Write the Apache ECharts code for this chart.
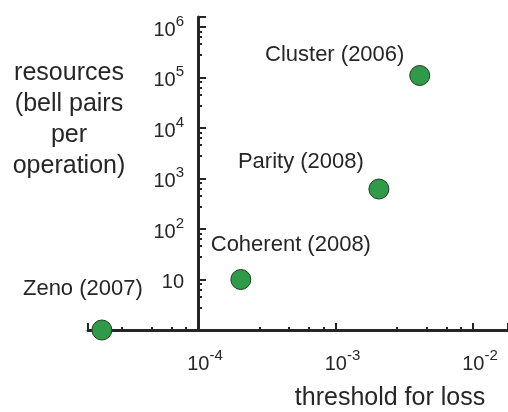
<!DOCTYPE html>
<html>
<head>
<meta charset="utf-8">
<script src="https://cdn.jsdelivr.net/npm/echarts@6/dist/echarts.min.js"></script>
<style>
html,body{margin:0;padding:0;background:#fff;}
#chart{width:508px;height:412px;}
</style>
</head>
<body>
<div id="chart"></div>
<script>
// ---- data ----
const schemes = ['Zeno (2007)', 'Coherent (2008)', 'Parity (2008)', 'Cluster (2006)'];
const lossThreshold = [2.0e-5, 2.05e-4, 2.07e-3, 4.1e-3];
const bellPairs = [1, 10, 620, 1.1e5];
const xAxisTitle = 'threshold for loss';
const yAxisTitle = 'resources\n(bell pairs\nper\noperation)';

// ---- styling (label offsets relative to the point) ----
const labelOffsets = [[-19, -41], [50, -35], [-78, -27], [-85, -21]];

const FONT = '"Liberation Sans", Arial, sans-serif';
const INK = '#262626';

function powExp(v) {
  const e = Math.log10(v);
  const r = Math.round(e);
  return Math.abs(e - r) < 1e-6 ? r : null;
}

const supRich = {
  b: {fontFamily: FONT, fontSize: 20, color: INK, lineHeight: 26, verticalAlign: 'bottom'},
  s: {fontFamily: FONT, fontSize: 15, color: INK, verticalAlign: 'top', lineHeight: 15}
};

const chart = echarts.init(document.getElementById('chart'), null, {renderer: 'canvas'});
chart.setOption({
  backgroundColor: '#ffffff',
  animation: false,
  grid: {left: 88, right: 0, top: 17, bottom: 82, containLabel: false, outerBoundsMode: 'none'},
  graphic: [{
    type: 'text',
    x: 69,
    y: 58,
    silent: true,
    style: {
      text: yAxisTitle,
      fontFamily: FONT,
      fontSize: 25,
      lineHeight: 31,
      fill: INK,
      align: 'center',
      verticalAlign: 'top'
    }
  }],
  xAxis: {
    type: 'log',
    logBase: 10,
    min: Math.pow(10, -4.8),
    max: Math.pow(10, -1.745),
    splitNumber: 5,
    name: xAxisTitle,
    nameLocation: 'middle',
    nameGap: 56,
    nameTextStyle: {fontFamily: FONT, fontSize: 25, color: INK, padding: [0, 0, 0, 184]},
    axisLine: {lineStyle: {color: INK, width: 3}},
    axisTick: {inside: true, length: 7, lineStyle: {color: INK, width: 2}},
    minorTick: {show: true, splitNumber: 5, length: 3, lineStyle: {color: INK, width: 2}},
    splitLine: {show: false},
    axisLabel: {
      margin: 18,
      padding: [0, 0, 0, 14],
      formatter: function (v) {
        const e = powExp(v);
        if (e === null) return '';
        return '{b|10}{s|' + e + '}';
      },
      rich: supRich
    }
  },
  yAxis: {
    type: 'log',
    logBase: 10,
    min: 1,
    max: Math.pow(10, 6.2),
    splitNumber: 6,
    offset: -110,
    axisLine: {lineStyle: {color: INK, width: 3}},
    axisTick: {inside: true, length: 8, lineStyle: {color: INK, width: 2}},
    minorTick: {show: true, splitNumber: 5, length: 4, lineStyle: {color: INK, width: 2}},
    splitLine: {show: false},
    axisLabel: {
      margin: 14,
      formatter: function (v) {
        const e = powExp(v);
        if (e === null || e === 0) return '';
        if (e === 1) return '{b|10}';
        return '{b|10}{s|' + e + '}';
      },
      rich: supRich
    }
  },
  series: [{
    type: 'scatter',
    clip: false,
    symbol: 'circle',
    symbolSize: 20,
    z: 5,
    itemStyle: {color: '#2f9a47', borderColor: '#1e3f22', borderWidth: 1, opacity: 1},
    emphasis: {disabled: true},
    data: schemes.map(function (n, i) {
      return {
        name: n,
        value: [lossThreshold[i], bellPairs[i]],
        label: {
          show: true,
          position: 'inside',
          offset: labelOffsets[i],
          formatter: '{b}',
          fontFamily: FONT,
          fontSize: 22,
          color: INK,
          opacity: 1,
          align: 'center',
          verticalAlign: 'middle'
        }
      };
    })
  }]
});
</script>
</body>
</html>
